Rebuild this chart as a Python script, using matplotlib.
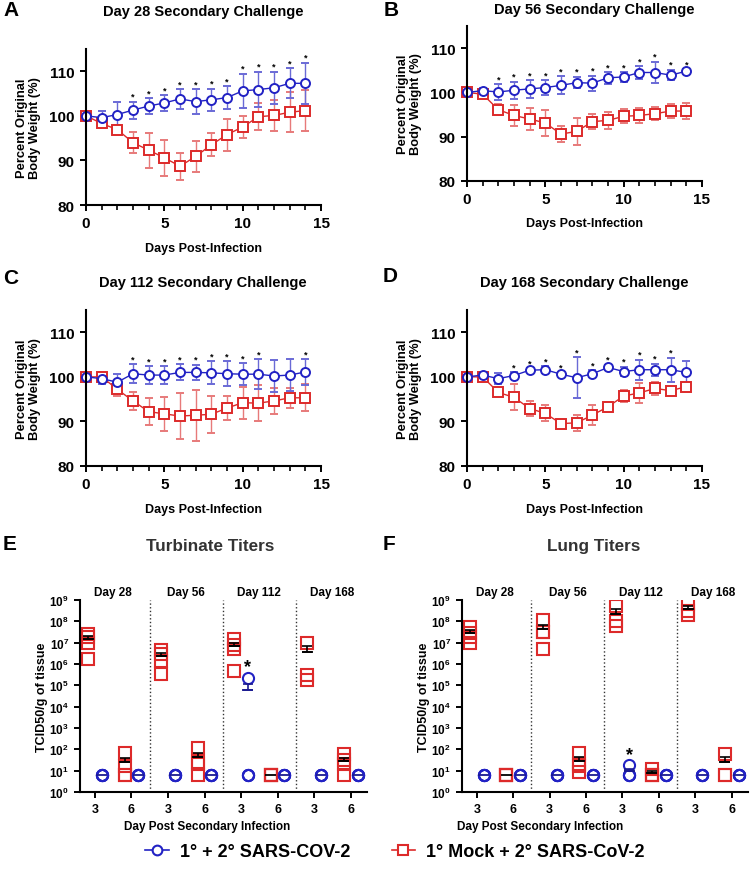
import numpy as np
import matplotlib
matplotlib.use('Agg')
import matplotlib.pyplot as plt
from matplotlib.lines import Line2D

plt.rcParams['font.family'] = ['Liberation Sans', 'DejaVu Sans']
plt.rcParams['font.weight'] = 'bold'
plt.rcParams['mathtext.fontset'] = 'custom'
plt.rcParams['mathtext.rm'] = 'Liberation Sans:bold'
plt.rcParams['mathtext.bf'] = 'Liberation Sans:bold'

BLUE = '#2222c4'
BLUE_E = '#6a6ad6'
RED = '#dd2a2a'
RED_E = '#e77a7a'

# ---- body weight data (mean, sd), days 0-14 ----
days = list(range(15))

a_blue = [100, 99.6, 100.3, 101.3, 102.2, 102.9, 103.8, 103.2, 103.6, 104.1, 105.6, 105.9, 106.3, 107.3, 107.3]
a_blue_sd = [0, 1.6, 2.8, 1.9, 1.8, 1.7, 2.2, 2.8, 2.5, 2.6, 3.9, 4.0, 3.6, 3.4, 4.6]
a_red = [100, 98.3, 96.9, 94.0, 92.3, 90.6, 88.7, 90.9, 93.5, 95.8, 97.5, 99.8, 100.1, 100.8, 101.2]
a_red_sd = [0, 1.0, 1.0, 2.3, 3.9, 4.0, 3.0, 3.4, 2.6, 3.6, 2.4, 3.0, 3.5, 4.5, 4.7]
a_stars = [3, 4, 5, 6, 7, 8, 9, 10, 11, 12, 13, 14]

b_blue = [100, 100.4, 100.1, 100.5, 100.8, 101.1, 101.6, 102.2, 102.1, 103.3, 103.5, 104.5, 104.5, 103.9, 104.8]
b_blue_sd = [0, 0.6, 1.7, 1.9, 2.0, 1.6, 2.0, 1.3, 1.7, 1.3, 1.1, 1.4, 2.4, 1.2, 0.45]
b_red = [100, 99.6, 96.1, 94.8, 94.0, 93.1, 90.6, 91.2, 93.4, 93.7, 94.6, 94.8, 95.2, 95.8, 95.8]
b_red_sd = [0, 0.8, 1.3, 2.3, 2.4, 2.9, 1.8, 3.0, 1.7, 1.9, 1.6, 1.6, 1.4, 1.5, 1.9]
b_stars = [2, 3, 4, 5, 6, 7, 8, 9, 10, 11, 12, 13, 14]

c_blue = [100, 99.6, 98.8, 100.7, 100.4, 100.4, 101.0, 101.0, 100.9, 100.7, 100.6, 100.6, 100.2, 100.4, 101.1]
c_blue_sd = [0, 1.2, 1.8, 2.1, 2.0, 2.0, 1.8, 1.7, 2.6, 2.8, 2.5, 3.4, 3.5, 3.5, 2.9]
c_red = [100, 100.0, 97.2, 94.6, 92.2, 91.7, 91.2, 91.4, 91.6, 93.0, 94.2, 94.1, 94.6, 95.3, 95.3]
c_red_sd = [0, 1.0, 1.5, 2.1, 3.0, 3.8, 5.1, 5.7, 4.2, 2.7, 3.6, 4.0, 2.9, 2.3, 3.0]
c_stars = [3, 4, 5, 6, 7, 8, 9, 10, 11, 14]

d_blue = [100, 100.4, 99.6, 100.3, 101.5, 101.6, 100.6, 99.8, 100.7, 102.1, 101.2, 101.6, 101.6, 101.6, 101.0]
d_blue_sd = [0, 0.7, 1.2, 0.8, 0.5, 0.8, 0.3, 4.6, 0.8, 0.6, 1.1, 2.2, 1.3, 2.7, 2.5]
d_red = [100, 100.0, 96.5, 95.4, 92.9, 91.8, 89.5, 89.7, 91.4, 93.3, 95.7, 96.4, 97.4, 96.9, 97.8]
d_red_sd = [0, 0.3, 0.4, 2.9, 1.7, 1.8, 0.9, 1.8, 2.3, 1.1, 1.4, 2.2, 1.5, 0.3, 0.3]
d_stars = [3, 4, 5, 6, 7, 8, 9, 10, 11, 12, 13]

# ---- titer data (TCID50/g), groups Day 28/56/112/168 ----
LOD = 6.3
groups = ['Day 28', 'Day 56', 'Day 112', 'Day 168']
day_ticks = ['3', '6', '3', '6', '3', '6', '3', '6']

turb_red_d3 = [[2.6e7, 1.9e7, 1.0e7, 1.75e6], [4.3e6, 3.0e6, 1.45e6, 3.5e5],
               [1.5e7, 7.4e6, 5.1e6, 4.9e5], [1.0e7, 3.0e5, 1.7e5]]
turb_red_d6 = [[68, 17, LOD, LOD], [115, 26, 20, LOD], [LOD, LOD, LOD, LOD], [60, 30, 20, LOD]]
turb_blue_d3 = [[LOD] * 4, [LOD] * 4, [2.3e5, LOD, LOD, LOD], [LOD] * 4]
turb_blue_d6 = [[LOD] * 4, [LOD] * 4, [LOD] * 4, [LOD] * 4]
turb_stars = [2]

lung_red_d3 = [[5.4e7, 2.9e7, 1.8e7, 9.8e6], [1.1e8, 3.2e7, 3.0e7, 5.1e6],
               [5.2e8, 1.0e8, 6.0e7], [6.7e8, 3.2e8, 2.0e8]]
lung_red_d6 = [[LOD] * 4, [68, 20, 17, 8.5], [12, LOD, LOD, LOD], [60, LOD, LOD]]
lung_blue_d3 = [[LOD] * 4, [LOD] * 4, [18.6, LOD, LOD, LOD], [LOD] * 4]
lung_blue_d6 = [[LOD] * 4, [LOD] * 4, [LOD] * 4, [LOD] * 4]
lung_stars = [2]

W, H = 750, 879
fig = plt.figure(figsize=(7.5, 8.79), dpi=100)


def box(l, t, r, b):
    return [l / W, 1 - b / H, (r - l) / W, (b - t) / H]


def ftext(x, y, s, **kw):
    fig.text(x / W, 1 - y / H, s, **kw)


def style(ax, size):
    for s in ['top', 'right']:
        ax.spines[s].set_visible(False)
    for s in ['left', 'bottom']:
        ax.spines[s].set_linewidth(1.5)
    ax.tick_params(which='major', direction='out', width=1.4, length=4.5, labelsize=size)
    ax.tick_params(which='minor', direction='out', width=1.2, length=3.5)


def weight_panel(rect, bm, bs, rm, rs, stars):
    ax = fig.add_axes(rect)
    for m, s, c, ce, mk in [(rm, rs, RED, RED_E, 's'), (bm, bs, BLUE, BLUE_E, 'o')]:
        eb = ax.errorbar(days, m, yerr=s, color=c, marker=mk, ms=6.5, mfc='white', mec=c,
                         mew=1.4, lw=1, ecolor=ce, elinewidth=1, capsize=3, capthick=1)
        for art in [eb[0], *eb[1], *eb[2]]:
            art.set_clip_on(False)
    for d in stars:
        ax.text(d, bm[d] + bs[d] + 0.2, '*', ha='center', va='bottom', fontsize=6.5)
    ax.set_xlim(0, 15)
    ax.set_ylim(80, 115)
    ax.set_xticks([0, 5, 10, 15])
    ax.set_xticks(range(16), minor=True)
    ax.set_yticks([80, 90, 100, 110])
    style(ax, 11)
    ax.set_xlabel('Days Post-Infection', fontsize=9, fontweight='bold')
    ax.xaxis.set_label_coords(0.5, -0.235)
    ax.set_ylabel('Percent Original\nBody Weight (%)', fontsize=9.3, fontweight='bold', linespacing=1.15)
    ax.yaxis.set_label_coords(-0.19, 0.5)
    return ax


def draw_group(ax, x, vals, color, mk, ms, barc):
    vals = np.array(vals, dtype=float)
    ax.plot([x] * len(vals), vals, ls='none', marker=mk, ms=ms, mfc='none', mec=color, mew=1.5)
    m = vals.mean()
    sem = vals.std(ddof=1) / np.sqrt(len(vals))
    ax.hlines(m, x - 0.15, x + 0.15, color=barc, lw=1.3, zorder=3)
    if sem > 0:
        ax.errorbar([x], [m], yerr=[[0], [sem]], fmt='none', ecolor=barc, elinewidth=1.2,
                    capsize=3.5, capthick=1.2, zorder=3)


def titer_panel(rect, red3, red6, blue3, blue6, stars):
    ax = fig.add_axes(rect)
    ax.set_yscale('log')
    for g in range(4):
        for k, (red, blue) in enumerate([(red3[g], blue3[g]), (red6[g], blue6[g])]):
            x = 2 * g + k
            draw_group(ax, x - 0.19, red, RED, 's', 9, 'black')
            draw_group(ax, x + 0.19, blue, BLUE, 'o', 8, '#1a1a90')
    for g in stars:
        top = max(blue3[g])
        ax.text(2 * g + 0.19, top * 1.25, '*', ha='center', va='bottom', fontsize=13)
    for g in range(1, 4):
        ax.axvline(2 * g - 0.5, ls=':', color='#333333', lw=1)
    for g, name in enumerate(groups):
        ax.text(2 * g + 0.5, 2.5e9, name, ha='center', va='center', fontsize=8.5, fontweight='bold')
    ax.set_xlim(-0.41, 7.45)
    ax.set_ylim(1, 1e9)
    ax.set_yticks([10.0 ** p for p in range(10)])
    ax.set_yticklabels([r'$10^{%d}$' % p for p in range(10)])
    ax.minorticks_off()
    ax.set_xticks(range(8))
    ax.set_xticklabels(day_ticks)
    style(ax, 9)
    ax.tick_params(axis='y', labelsize=8.5)
    ax.set_ylabel('TCID50/g of tissue', fontsize=9, fontweight='bold')
    ax.yaxis.set_label_coords(-0.112, 0.5)
    return ax


weight_panel(box(86, 50, 321, 206), a_blue, a_blue_sd, a_red, a_red_sd, a_stars)
weight_panel(box(467, 27, 702, 182), b_blue, b_blue_sd, b_red, b_red_sd, b_stars)
weight_panel(box(86, 311, 321, 467), c_blue, c_blue_sd, c_red, c_red_sd, c_stars)
weight_panel(box(467, 311, 702, 467), d_blue, d_blue_sd, d_red, d_red_sd, d_stars)

titer_panel(box(80, 601, 367, 793), turb_red_d3, turb_red_d6, turb_blue_d3, turb_blue_d6, turb_stars)
titer_panel(box(462, 601, 748, 793), lung_red_d3, lung_red_d6, lung_blue_d3, lung_blue_d6, lung_stars)

# titles and panel letters
ftext(203, 12, 'Day 28 Secondary Challenge', ha='center', va='center', fontsize=10.5)
ftext(594, 10, 'Day 56 Secondary Challenge', ha='center', va='center', fontsize=10.5)
ftext(203, 283, 'Day 112 Secondary Challenge', ha='center', va='center', fontsize=10.5)
ftext(584, 283, 'Day 168 Secondary Challenge', ha='center', va='center', fontsize=10.5)
ftext(210, 547, 'Turbinate Titers', ha='center', va='center', fontsize=12.3, color='#333333')
ftext(594, 547, 'Lung Titers', ha='center', va='center', fontsize=12.3, color='#333333')
for x, y, s in [(3, 11, 'A'), (384, 10, 'B'), (3, 279, 'C'), (383, 277, 'D'), (3, 545, 'E'), (383, 545, 'F')]:
    ftext(x, y, s, ha='left', va='center', fontsize=15)

ftext(207, 827, 'Day Post Secondary Infection', ha='center', va='center', fontsize=8.5)
ftext(540, 827, 'Day Post Secondary Infection', ha='center', va='center', fontsize=8.5)

handles = [Line2D([0], [0], color=BLUE, marker='o', ms=7, mfc='white', mec=BLUE, mew=1.5, lw=1.2),
           Line2D([0], [0], color=RED, marker='s', ms=7, mfc='white', mec=RED, mew=1.5, lw=1.2)]
fig.legend(handles, ['1° + 2° SARS-COV-2', '1° Mock + 2° SARS-CoV-2'], loc='center',
           bbox_to_anchor=(395 / W, 1 - 853 / H), ncol=2, frameon=False,
           prop={'size': 13, 'weight': 'bold'}, handlelength=1.3, columnspacing=2.3,
           handletextpad=0.6)

fig.savefig('out.png', dpi=100)
